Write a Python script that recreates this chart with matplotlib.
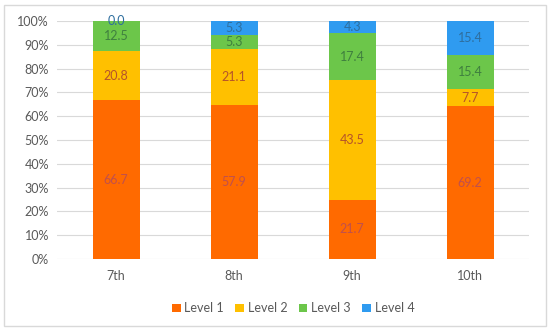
import matplotlib
matplotlib.use("Agg")
from matplotlib import pyplot as plt
from matplotlib.patches import Rectangle
import numpy as np

plt.rcParams['font.family'] = ['Lato', 'DejaVu Sans']

# data (raw values, bars are drawn as 100% stacked)
grades = ['7th', '8th', '9th', '10th']
levels = ['Level 1', 'Level 2', 'Level 3', 'Level 4']
level1 = [66.7, 57.9, 21.7, 69.2]
level2 = [20.8, 21.1, 43.5, 7.7]
level3 = [12.5, 5.3, 17.4, 15.4]
level4 = [0.0, 5.3, 4.3, 15.4]

colors = ['#FF6A00', '#FFC000', '#6CC64A', '#2F9BF0']
text_colors = ['#C0504D', '#B5532A', '#3F7F3F', '#2E6E9E']

series = np.array([level1, level2, level3, level4])
shares = series / series.sum(axis=0)

fig = plt.figure(figsize=(5.5, 3.33), dpi=100)
ax = fig.add_axes([0.104, 0.222, 0.858, 0.715])

x = np.arange(len(grades))
bottom = np.zeros(len(grades))
for i, name in enumerate(levels):
    ax.bar(x, shares[i], 0.4, bottom=bottom, color=colors[i], label=name, zorder=2)
    for j in range(len(grades)):
        yc = bottom[j] + shares[i][j] / 2
        if series[i][j] == 0:
            yc = bottom[j] + 0.002
        ax.text(x[j], yc, '%.1f' % series[i][j], ha='center', va='center',
                fontsize=9, color=text_colors[i], zorder=3)
    bottom += shares[i]

ax.set_xlim(-0.5, 3.5)
ax.set_ylim(0, 1.0)
ax.set_yticks(np.arange(0, 1.01, 0.1))
ax.set_yticklabels(['%d%%' % v for v in range(0, 101, 10)])
ax.set_xticks(x)
ax.set_xticklabels(grades)
ax.tick_params(length=0, labelsize=9, colors='#595959', pad=6)
ax.tick_params(axis='x', pad=8)
ax.grid(axis='y', color='#D9D9D9', linewidth=0.8, zorder=0)
for s in ax.spines.values():
    s.set_visible(False)

ax.legend(loc='upper center', bbox_to_anchor=(0.5, -0.135), ncol=4, frameon=False,
          fontsize=9, labelcolor='#595959', handlelength=0.7, handleheight=0.7,
          handletextpad=0.3, columnspacing=0.9)

fig.patches.append(Rectangle((0.007, 0.02), 0.986, 0.965, transform=fig.transFigure,
                             fill=False, edgecolor='#D9D9D9', linewidth=1))

fig.savefig('out.png', dpi=100)
